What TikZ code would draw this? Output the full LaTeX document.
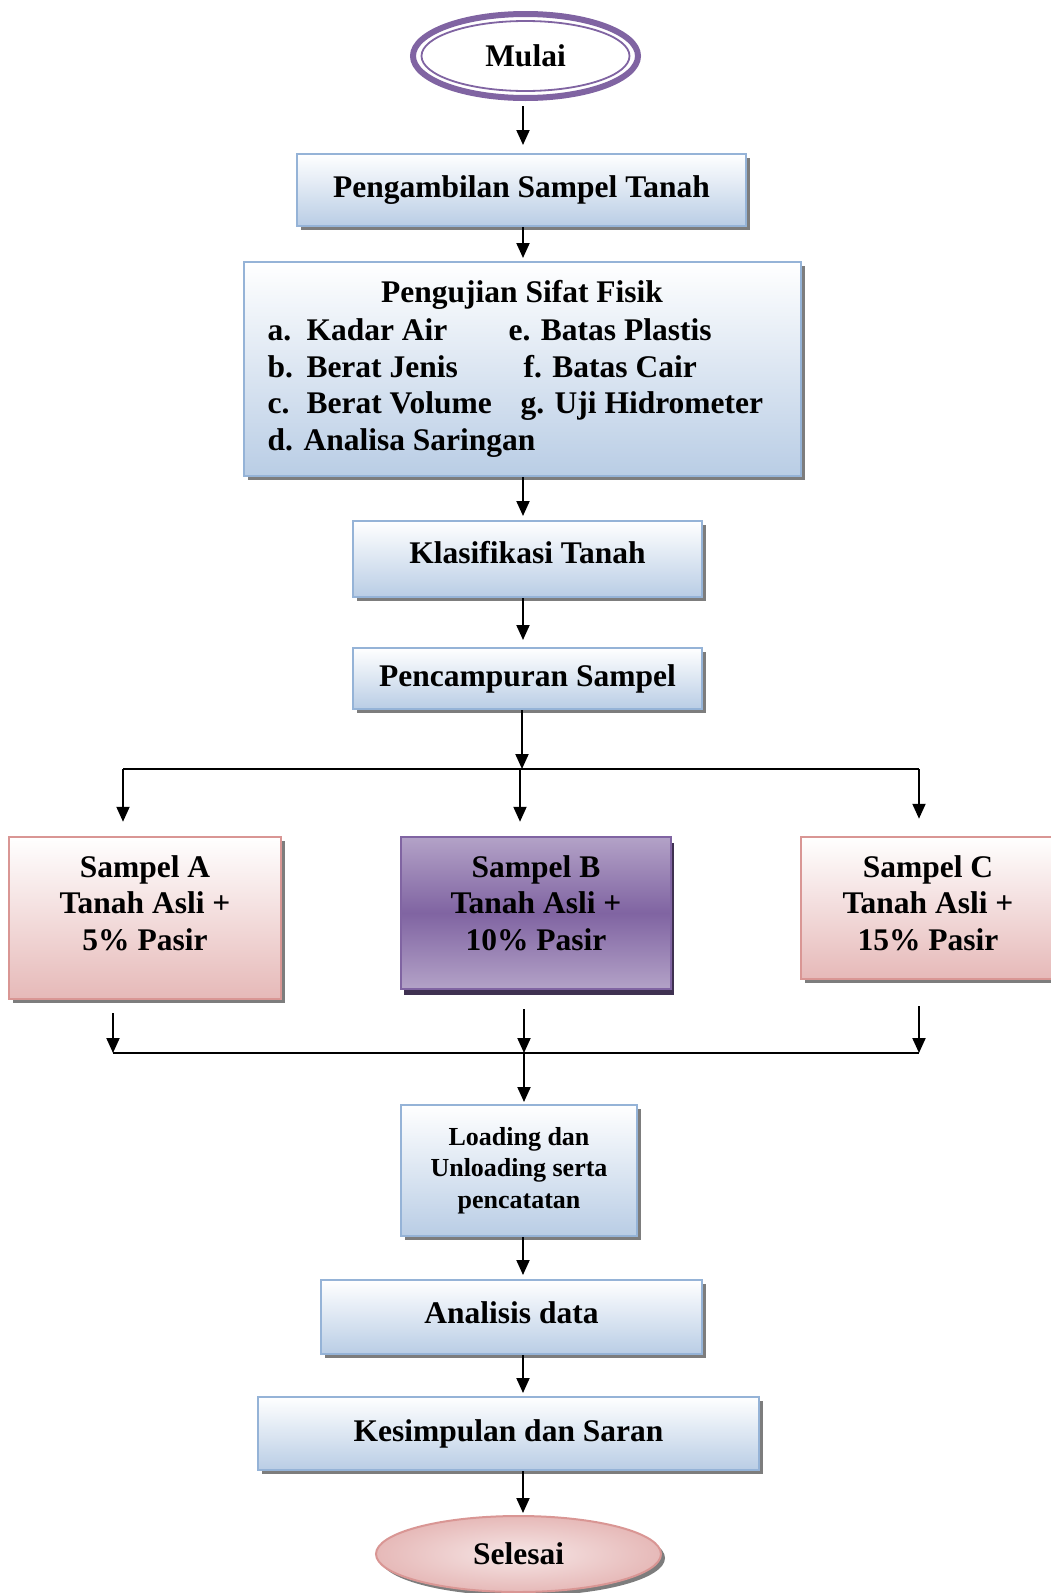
\documentclass[tikz,border=0pt]{standalone}
\usepackage{fontspec}
\setmainfont{Liberation Serif}
\usepackage{xcolor}
\usepackage{tikz}
\usetikzlibrary{arrows.meta, shapes.geometric, shadows, calc}

\definecolor{lilac}{HTML}{8064A2}
\definecolor{lilacLight}{HTML}{B3A2C7}
\definecolor{lilacDark}{HTML}{3F3151}
\definecolor{skyBorder}{HTML}{95B3D7}
\definecolor{skyFill}{HTML}{B9CDE5}
\definecolor{roseBorder}{HTML}{D99694}
\definecolor{roseFill}{HTML}{E6B9B8}
\definecolor{roseLight}{HTML}{F6E6E6}

\begin{document}
\begin{tikzpicture}[
  x=1pt, y=-1pt,
  font=\fontsize{31.5}{36.6}\selectfont\bfseries,
  boxshadow/.style={drop shadow={shadow xshift=4pt, shadow yshift=-4pt, fill=black!60, opacity=.85}},
  bluebox/.style={rectangle, draw=skyBorder, line width=2pt, top color=white, bottom color=skyFill, boxshadow, inner sep=0pt},
  rosebox/.style={rectangle, draw=roseBorder, line width=2.5pt, top color=white, bottom color=roseFill, boxshadow, inner sep=0pt},
  lilacbox/.style={rectangle, draw=lilac, line width=2.5pt, top color=lilacLight, bottom color=lilacLight, middle color=lilac,
    drop shadow={shadow xshift=3pt, shadow yshift=-6pt, fill=lilacDark, opacity=1}, inner sep=0pt},
  conn/.style={line width=2pt},
  arr/.style={conn, -{Triangle[width=13pt,length=15pt]}}
]
  \useasboundingbox (0,0) rectangle (1051,1593);
  \coordinate (axis) at (523,0);

  \node[ellipse, draw=lilac, line width=6pt, fill=white, minimum width=225pt, minimum height=84pt, inner sep=0pt] (mulai) at (525.5,56) {Mulai};
  \draw[lilac, line width=1.8pt] (mulai.center) ellipse [x radius=104, y radius=35];

  \node[bluebox, minimum width=449pt, minimum height=72pt] (ambil) at (521.5,190) {Pengambilan Sampel Tanah};

  \node[bluebox, minimum width=557pt, minimum height=214pt] (uji) at (522.5,369) {};
  \node[anchor=base] (ujiTitle) at (522,302) {Pengujian Sifat Fisik};
  \node[anchor=base west] (ujiA) at (264,340) {\makebox[39pt][l]{a.}Kadar Air};
  \node[anchor=base west] (ujiB) at (264,377) {\makebox[39pt][l]{b.}Berat Jenis};
  \node[anchor=base west] (ujiC) at (264,413) {\makebox[39pt][l]{c.}Berat Volume};
  \node[anchor=base west] (ujiD) at (264,450) {\makebox[36pt][l]{d.}Analisa Saringan};
  \node[anchor=base west] (ujiE) at (505,340) {e. Batas Plastis};
  \node[anchor=base west] (ujiF) at (520,377) {f. Batas Cair};
  \node[anchor=base west] (ujiG) at (517,413) {g. Uji Hidrometer};

  \node[bluebox, minimum width=349pt, minimum height=76pt, text depth=13pt] (klas) at (527.5,559) {Klasifikasi Tanah};
  \node[bluebox, minimum width=349pt, minimum height=61pt] (campur) at (527.5,678.5) {Pencampuran Sampel};

  \coordinate (split) at (522,769);
  \coordinate (splitA) at (123,769);
  \coordinate (splitB) at (520,769);
  \coordinate (splitC) at (919,769);

  \node[rosebox, minimum width=272pt, minimum height=162pt] (sa) at (145,918) {};
  \node[lilacbox, minimum width=270pt, minimum height=152pt] (sb) at (536,913) {};
  \node[rosebox, minimum width=254pt, minimum height=142pt] (sc) at (928,908) {};
  \node[align=center] (saText) at (145,903) {Sampel A\\Tanah Asli +\\5\% Pasir};
  \node[align=center] (sbText) at (536,903) {Sampel B\\Tanah Asli +\\10\% Pasir};
  \node[align=center] (scText) at (928,903) {Sampel C\\Tanah Asli +\\15\% Pasir};

  \coordinate (mergeA) at (113,1053);
  \coordinate (mergeB) at (524,1053);
  \coordinate (mergeC) at (919,1053);

  \node[bluebox, minimum width=236pt, minimum height=131pt, align=center,
    font=\fontsize{26}{31.5}\selectfont\bfseries] (load) at (519,1170.5) {Loading dan\\Unloading serta\\pencatatan};
  \node[bluebox, minimum width=381pt, minimum height=74pt, text depth=8pt] (anal) at (511.5,1317) {Analisis data};
  \node[bluebox, minimum width=501pt, minimum height=73pt] (kes) at (508.5,1433.5) {Kesimpulan dan Saran};
  \node[ellipse, draw=roseBorder, line width=2pt, inner color=roseLight, outer color=roseFill, boxshadow,
    minimum width=285pt, minimum height=76pt, inner sep=0pt] (sel) at (518.5,1554) {Selesai};

  \draw[arr, shorten <=5pt, shorten >=8pt] (mulai.south -| axis) -- (ambil.north -| axis);
  \draw[arr, shorten >=3pt] (ambil.south -| axis) -- (uji.north -| axis);
  \draw[arr, shorten >=4pt] (uji.south -| axis) -- (klas.north -| axis);
  \draw[arr, shorten >=7pt] (klas.south -| axis) -- (campur.north -| axis);
  \draw[arr] (campur.south -| split) -- (split);
  \draw[conn] (splitA) -- (splitC);
  \draw[arr, shorten >=14pt] (splitA) -- (splitA |- sa.north);
  \draw[arr, shorten >=14pt] (splitB) -- (splitB |- sb.north);
  \draw[arr, shorten >=17pt] (splitC) -- (splitC |- sc.north);

  \draw[arr] ([yshift=-13pt]sa.south -| mergeA) -- (mergeA);
  \draw[arr] ([yshift=-19pt]sb.south -| mergeB) -- (mergeB);
  \draw[arr] ([yshift=-26pt]sc.south -| mergeC) -- (mergeC);
  \draw[conn] (mergeA) -- (mergeC);

  \draw[arr, shorten >=2pt] (mergeB) -- (load.north -| mergeB);
  \draw[arr, shorten >=4pt] (load.south -| axis) -- (anal.north -| axis);
  \draw[arr, shorten >=3pt] (anal.south -| axis) -- (kes.north -| axis);
  \draw[arr, shorten >=2pt] (kes.south -| axis) -- (sel.north -| axis);
\end{tikzpicture}
\end{document}
